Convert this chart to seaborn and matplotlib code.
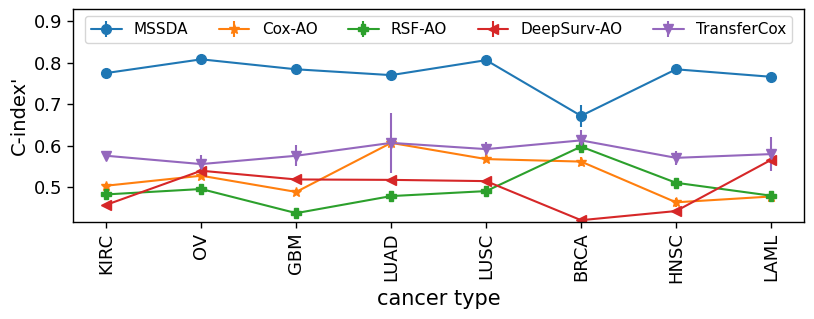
import matplotlib
matplotlib.use("Agg")
import matplotlib.pyplot as plt
import seaborn as sns
import numpy as np

cancer_types = ["KIRC", "OV", "GBM", "LUAD", "LUSC", "BRCA", "HNSC", "LAML"]

mssda = [0.775, 0.808, 0.784, 0.770, 0.806, 0.672, 0.784, 0.766]
mssda_err = [0.004, 0.004, 0.004, 0.004, 0.004, 0.026, 0.004, 0.004]

cox_ao = [0.504, 0.528, 0.489, 0.607, 0.568, 0.562, 0.464, 0.478]
cox_ao_err = [0.006, 0.008, 0.006, 0.006, 0.006, 0.010, 0.011, 0.006]

rsf_ao = [0.483, 0.496, 0.438, 0.479, 0.491, 0.598, 0.511, 0.480]
rsf_ao_err = [0.007, 0.007, 0.007, 0.007, 0.007, 0.012, 0.007, 0.007]

deepsurv_ao = [0.458, 0.540, 0.519, 0.518, 0.515, 0.421, 0.443, 0.566]
deepsurv_ao_err = [0.004, 0.004, 0.004, 0.004, 0.004, 0.004, 0.004, 0.008]

transfercox = [0.576, 0.556, 0.576, 0.607, 0.592, 0.613, 0.571, 0.580]
transfercox_err = [0.010, 0.022, 0.025, 0.072, 0.018, 0.024, 0.017, 0.040]

series = [
    ("MSSDA", mssda, mssda_err, "o"),
    ("Cox-AO", cox_ao, cox_ao_err, "*"),
    ("RSF-AO", rsf_ao, rsf_ao_err, "P"),
    ("DeepSurv-AO", deepsurv_ao, deepsurv_ao_err, "<"),
    ("TransferCox", transfercox, transfercox_err, "v"),
]

sns.set_style("white")
plt.rcParams["font.family"] = ["DejaVu Sans"]
plt.rcParams["text.color"] = "black"
plt.rcParams["axes.labelcolor"] = "black"
plt.rcParams["xtick.color"] = "black"
plt.rcParams["ytick.color"] = "black"
colors = sns.color_palette("tab10", 5)

fig, ax = plt.subplots(figsize=(8.14, 3.19), dpi=100)
x = np.arange(len(cancer_types))
for (name, vals, errs, mk), c in zip(series, colors):
    ax.errorbar(x, vals, yerr=errs, label=name, color=c, marker=mk,
                markersize=7, linewidth=1.5, elinewidth=1.5)

ax.set_xticks(x)
ax.set_xticklabels(cancer_types, rotation=90, fontsize=13)
ax.tick_params(axis="y", labelsize=13)
ax.tick_params(axis="both", direction="out", length=4, width=1, left=True, bottom=True)
ax.set_ylim(0.4166, 0.93)
ax.set_yticks([0.5, 0.6, 0.7, 0.8, 0.9])
ax.set_ylabel("C-index'", fontsize=14)
ax.set_xlabel("cancer type", fontsize=15)
for s in ax.spines.values():
    s.set_color("black")
    s.set_linewidth(1)

ax.legend(loc="upper center", ncol=5, fontsize=11, frameon=True, edgecolor="#cccccc")

fig.subplots_adjust(left=0.0897, right=0.988, bottom=0.304, top=0.973)
fig.savefig("out.png", dpi=100)
